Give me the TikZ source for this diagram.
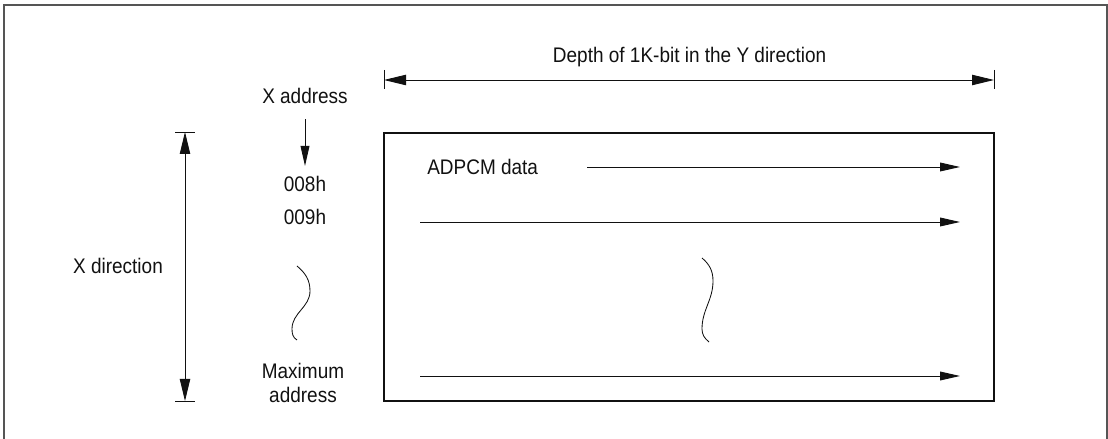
\documentclass[tikz,border=0pt]{standalone}
\usepackage{fontspec}
\setmainfont[FakeStretch=0.9]{Liberation Sans}
\usepackage{tikz}
\usetikzlibrary{arrows.meta,positioning}
\definecolor{Ink}{HTML}{111111}
\definecolor{FrameGray}{HTML}{555555}
\tikzset{
  dimarrow/.style={{Triangle[length=5.5mm,width=2.6mm]}-{Triangle[length=5.5mm,width=2.6mm]}, line width=0.6pt, draw=Ink},
  dataarrow/.style={-{Triangle[length=5mm,width=2.2mm]}, line width=0.7pt, draw=Ink},
  ticktiny/.style={line width=0.6pt, draw=Ink},
  wavyline/.style={line width=0.6pt, draw=Ink},
  labeltext/.style={font=\fontsize{15}{17}\selectfont, text=Ink, inner sep=0pt, align=center},
}

\begin{document}
\begin{tikzpicture}[x=1cm,y=1cm]
\path[use as bounding box] (0,0) rectangle (27.7,10.975);
\draw[FrameGray,line width=1pt] (0.1,-0.1) -- (0.1,10.85) -- (27.675,10.85) -- (27.675,-0.1);

% memory area
\node[draw=Ink,line width=0.9pt,minimum width=15.25cm,minimum height=6.7cm,inner sep=0pt] (mem) at (17.225,4.3) {};
\node[labeltext,anchor=west] (adpcm) at (10.675,6.8) {ADPCM data};
\coordinate (row0s) at (14.675,6.8);
\coordinate (row0e) at (24.0,6.8);
\coordinate (row1s) at (10.5,5.425);
\coordinate (row1e) at (24.0,5.425);
\coordinate (rowns) at (10.5,1.575);
\coordinate (rowne) at (24.0,1.575);
\draw[dataarrow] (row0s) -- (row0e);
\draw[dataarrow] (row1s) -- (row1e);
\draw[dataarrow] (rowns) -- (rowne);
\draw[wavyline] (17.55,4.525) to[out=-40,in=90] (17.825,3.95) to[out=-90,in=90] (17.55,2.75) to[out=-90,in=140] (17.725,2.425);

% Y direction dimension
\node[labeltext] (depth) at (17.24,9.55) {Depth of 1K-bit in the Y direction};
\coordinate (yleft) at (9.6,8.975);
\coordinate (yright) at (24.85,8.975);
\draw[dimarrow] (yleft) -- (yright);
\draw[ticktiny] (9.6,9.225) -- (9.6,8.75);
\draw[ticktiny] (24.85,9.225) -- (24.85,8.75);

% X addresses
\node[labeltext] (xaddr) at (7.625,8.575) {X address};
\node[labeltext] (a008) at (7.625,6.375) {008h};
\node[labeltext] (a009) at (7.625,5.55) {009h};
\node[labeltext] (amax) at (7.575,1.4) {Maximum\\address};
\draw[dataarrow,shorten <=0.38cm,shorten >=0.25cm] (xaddr.south) -- (a008.north);
\draw[wavyline] (7.425,4.325) to[out=-40,in=90] (7.75,3.7) to[out=-90,in=90] (7.3,2.75) to[out=-90,in=150] (7.425,2.475);

% X direction dimension
\node[labeltext] (xdir) at (2.95,4.325) {X direction};
\coordinate (xtop) at (4.625,7.675);
\coordinate (xbot) at (4.625,0.95);
\draw[dimarrow] (xtop) -- (xbot);
\draw[ticktiny] (4.385,7.675) -- (4.865,7.675);
\draw[ticktiny] (4.385,0.95) -- (4.865,0.95);
\end{tikzpicture}
\end{document}
